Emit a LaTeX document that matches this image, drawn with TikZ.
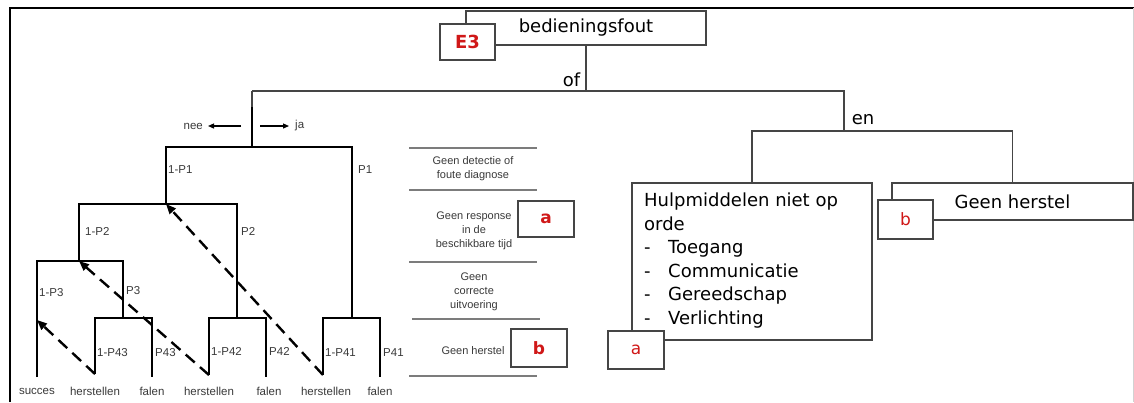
\documentclass[tikz,border=0pt]{standalone}
\usepackage{fontspec}
\setmainfont{DejaVu Sans}
\newfontfamily\arialfam{Liberation Sans}
\usetikzlibrary{arrows.meta}
\definecolor{ink}{HTML}{3A3A3A}
\definecolor{boxline}{HTML}{454545}
\definecolor{rulegray}{HTML}{7C7C7C}
\definecolor{markred}{HTML}{D01818}
\begin{document}
\begin{tikzpicture}[x=1pt,y=-1pt,
  box/.style={draw=boxline, line width=1.2pt, fill=white, inner sep=0pt},
  conn/.style={draw=boxline, line width=1.2pt},
  tree/.style={line width=2.4pt, black},
  recov/.style={line width=2.4pt, black, dash pattern=on 12pt off 7pt,
    -{Triangle[length=10pt,width=8pt]}},
  small/.style={line width=1.2pt, black, -{Triangle[length=6pt,width=5pt]}},
  lbl/.style={font=\arialfam\fontsize{11.5}{14}\selectfont, text=ink, inner sep=0pt},
  tbl/.style={font=\arialfam\fontsize{11}{14}\selectfont, text=ink, align=center, inner sep=0pt},
  big/.style={font=\fontsize{18}{23.5}\selectfont},
  redmark/.style={text=markred, font=\fontsize{17}{20}\selectfont},
  redbold/.style={text=markred, font=\bfseries\fontsize{17}{20}\selectfont},
  rule/.style={draw=rulegray, line width=1.5pt}
]
\useasboundingbox (0,0) rectangle (1134,402);
\fill[white] (0,0) rectangle (1134,402);

% outer frame
\draw[line width=2.2pt] (10,402) -- (10,8) -- (1134,8);
\draw[gray!35, line width=1pt] (1133,8) -- (1133,402);

% ---------- fault tree (right part) ----------
\node[box, minimum width=240pt, minimum height=34pt, big] (fout) at (586,28) {bedieningsfout};
\node[box, minimum width=55pt, minimum height=36pt, text=markred,
      font=\bfseries\fontsize{18}{20}\selectfont] (e3) at (467.5,42) {E3};

\coordinate (orgate) at (586,91);
\coordinate (engate) at (844,131);
\coordinate (nj) at (252,91);
\coordinate (rootin) at (252,107);

\node[big, inner sep=0pt] (oflbl) at (571.5,80) {of};
\node[big, inner sep=0pt] (enlbl) at (863,120) {en};

\node[box, minimum width=240pt, minimum height=157pt] (hulp) at (752,261.5) {};
\node[big, anchor=north west, align=left, inner sep=0pt] (hulptxt) at (644,193)
  {Hulpmiddelen niet op\\orde\\
   \makebox[24pt][l]{-}Toegang\\
   \makebox[24pt][l]{-}Communicatie\\
   \makebox[24pt][l]{-}Gereedschap\\
   \makebox[24pt][l]{-}Verlichting};
\node[box, minimum width=241pt, minimum height=37pt, big] (gh) at (1012.5,201.5) {Geen herstel};
\node[box, minimum width=55pt, minimum height=39pt, redmark] (bR) at (905.5,219.5) {b};
\node[box, minimum width=56pt, minimum height=38pt, redmark] (aR) at (636,350) {a};

\draw[conn] (fout.south) -- (orgate);
\draw[conn] (nj) -- (orgate) -| (engate);
\draw[conn] (hulp.north) |- (engate) -| (gh.north);
\draw[conn] (nj) -- (rootin);

% ---------- event tree (left part) ----------
\coordinate (J1) at (252,147);
\coordinate (A) at (166,204);
\coordinate (B4) at (352,318);
\coordinate (C) at (79,261);
\coordinate (D) at (237,318);
\coordinate (S) at (37,377);
\coordinate (Sm) at (37,320);
\coordinate (E) at (123,318);
\coordinate (h1) at (95,374);
\coordinate (f1) at (152,377);
\coordinate (h2) at (209,375);
\coordinate (f2) at (266,377);
\coordinate (h3) at (323,375);
\coordinate (f3) at (380,377);

\draw[tree] (rootin) -- (J1);
\draw[tree] (A) |- (J1) -| (B4);
\draw[tree] (C) |- (A) -| (D);
\draw[tree] (S) |- (C) -| (E);
\draw[tree] (h1) |- (E) -| (f1);
\draw[tree] (h2) |- (D) -| (f2);
\draw[tree] (h3) |- (B4) -| (f3);

\draw[recov] (h1) -- (Sm);
\draw[recov] (h2) -- (C);
\draw[recov] (h3) -- (A);

\node[lbl, anchor=east] (nee) at (203,126) {nee};
\node[lbl, anchor=west] (ja) at (295,126) {ja};
\coordinate (neefrom) at (241,126);
\coordinate (jafrom) at (260,126);
\draw[small] (neefrom) -- ([xshift=5pt]nee.east);
\draw[small] (jafrom) -- ([xshift=-6pt]ja.west);

\node[lbl, anchor=west] (p1a) at (168,170) {1-P1};
\node[lbl, anchor=west] (p1b) at (358,170) {P1};
\node[lbl, anchor=west] (p2a) at (85,231) {1-P2};
\node[lbl, anchor=west] (p2b) at (241,231) {P2};
\node[lbl, anchor=west] (p3a) at (39,293) {1-P3};
\node[lbl, anchor=west] (p3b) at (126,291) {P3};
\node[lbl, anchor=west] (p43a) at (97,353) {1-P43};
\node[lbl, anchor=west] (p43b) at (155,353) {P43};
\node[lbl, anchor=west] (p42a) at (211,351) {1-P42};
\node[lbl, anchor=west] (p42b) at (269,351) {P42};
\node[lbl, anchor=west] (p41a) at (325,353) {1-P41};
\node[lbl, anchor=west] (p41b) at (383,353) {P41};

\node[lbl] (o1) at (37,391) {succes};
\node[lbl] (o2) at (95,391) {herstellen};
\node[lbl] (o3) at (152,391) {falen};
\node[lbl] (o4) at (209,391) {herstellen};
\node[lbl] (o5) at (269,391) {falen};
\node[lbl] (o6) at (326,391) {herstellen};
\node[lbl] (o7) at (380,391) {falen};

% ---------- column of event headings ----------
\draw[rule] (409,148) -- (537,148);
\draw[rule] (409,190) -- (537,190);
\draw[rule] (409,262) -- (537,262);
\draw[rule] (412,319) -- (540,319);
\draw[rule] (409,376) -- (537,376);

\node[tbl] (t1) at (473,169) {Geen detectie of\\foute diagnose};
\node[tbl] (t2) at (474,231) {Geen response\\in de\\beschikbare tijd};
\node[tbl] (t3) at (474,292) {Geen\\correcte\\uitvoering};
\node[tbl] (t4) at (473,351) {Geen herstel};

\node[box, minimum width=56pt, minimum height=36pt, redbold] (aT) at (546,219) {a};
\node[box, minimum width=56pt, minimum height=38pt, redbold] (bT) at (539,348) {b};
\end{tikzpicture}
\end{document}
